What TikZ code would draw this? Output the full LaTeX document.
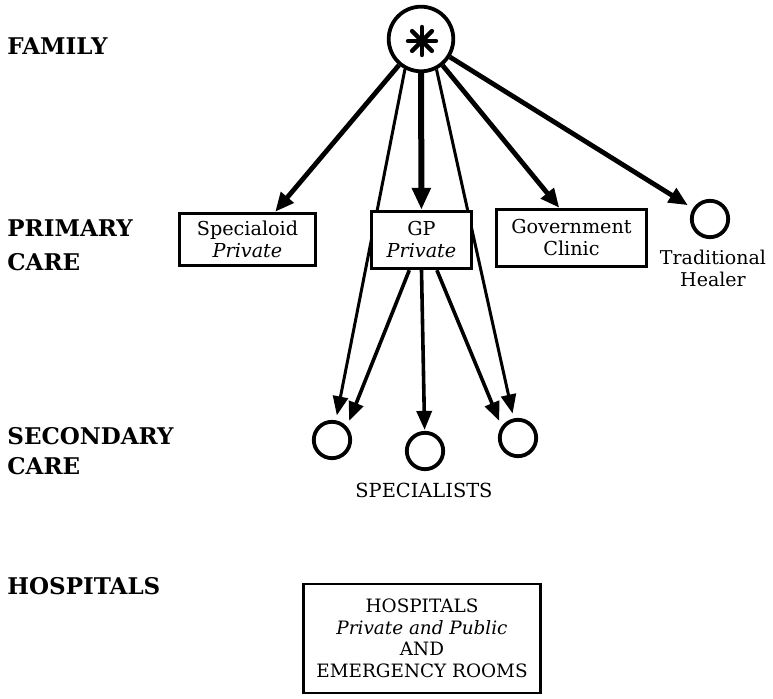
\documentclass[tikz,border=0pt]{standalone}
\usepackage{fontspec}
\setmainfont{DejaVu Serif}
\usetikzlibrary{arrows.meta,backgrounds,calc}

\tikzset{
  lvl/.style={font=\fontsize{11.5}{15}\selectfont\bfseries, anchor=base west, align=left, inner sep=0pt},
  boxn/.style={draw, line width=1.7pt, fill=white, inner sep=0pt, align=center,
               font=\fontsize{9.6}{11}\selectfont},
  ring/.style={circle, draw, line width=1.9pt, fill=white, inner sep=0pt, minimum size=18.2pt},
  famring/.style={circle, draw, line width=1.9pt, fill=white, inner sep=0pt, minimum size=32.3pt},
  plain/.style={inner sep=0pt, align=center, font=\fontsize{9.5}{11}\selectfont},
  famarrow/.style={-{Triangle[length=9.5pt,width=8pt]}, line width=2.4pt},
  midarrow/.style={-{Triangle[length=11pt,width=9pt]}, line width=3pt},
  gparrow/.style={-{Triangle[length=9.5pt,width=7.5pt]}, line width=1.8pt, shorten >=2.5pt},
  bypass/.style={-{Triangle[length=9.5pt,width=7.5pt]}, line width=1.5pt, shorten >=2.5pt}
}

\begin{document}
\begin{tikzpicture}[x=0.5pt,y=-0.5pt]
  \useasboundingbox (0,0) rectangle (773,699);

  % level captions on the left (base = baseline of the last line)
  \node[lvl] (lfam) at (7,55) {FAMILY};
  \node[lvl, font=\fontsize{11.5}{17}\selectfont\bfseries] (lprim) at (7,271) {PRIMARY\\CARE};
  \node[lvl] (lsec) at (7,475) {SECONDARY\\CARE};
  \node[lvl] (lhosp) at (7,595) {HOSPITALS};

  % family
  \node[famring] (fam) at (421,39) {};
  \foreach \a in {0,45,90,135}
    \draw[line width=2.2pt, line cap=round] ($(fam.center)+(1,2)$) ++(\a:14) -- ++(\a+180:28);

  % primary care
  \node[boxn, minimum width=68pt, minimum height=26pt] (spec) at (247.5,239.5) {Specialoid\\\textit{Private}};
  \node[boxn, minimum width=50pt, minimum height=28.5pt] (gp) at (421.5,240) {GP\\\textit{Private}};
  \node[boxn, minimum width=75pt, minimum height=28.5pt] (gov) at (571.5,238) {Government\\Clinic};
  \node[ring] (healer) at (710,219) {};
  \node[plain, anchor=base] (healtxt) at (713,287) {Traditional\\Healer};

  % secondary care
  \node[ring] (s1) at (332,440) {};
  \node[ring] (s2) at (425,451) {};
  \node[ring] (s3) at (518,438) {};
  \node[plain, font=\fontsize{9.7}{11}\selectfont, anchor=base] (spl) at (424,498) {SPECIALISTS};

  % hospitals
  \node[boxn, line width=1.4pt, minimum width=118.5pt, minimum height=54.5pt,
        font=\fontsize{9.2}{10.75}\selectfont] (hosp) at (422,638.5)
        {HOSPITALS\\\textit{Private and Public}\\AND\\EMERGENCY ROOMS};

  % direct family-to-specialist routes, passing behind the GP box
  \begin{pgfonlayer}{background}
    \draw[bypass] (fam.242) -- (s1);
    \draw[bypass] (fam.297) -- (s3);
  \end{pgfonlayer}

  % family to primary care
  \draw[famarrow] (fam) -- (spec.45);
  \draw[midarrow] (fam) -- (gp);
  \draw[famarrow] (fam) -- (gov.112);
  \draw[famarrow, shorten >=3pt] (fam) -- (healer);

  % GP referrals
  \draw[gparrow, shorten >=3pt] (gp.248) -- (s1.42);
  \draw[gparrow, shorten >=0.5pt] (gp.south) -- (s2);
  \draw[gparrow, shorten >=3pt] (gp.297) -- (s3.145);
\end{tikzpicture}
\end{document}
